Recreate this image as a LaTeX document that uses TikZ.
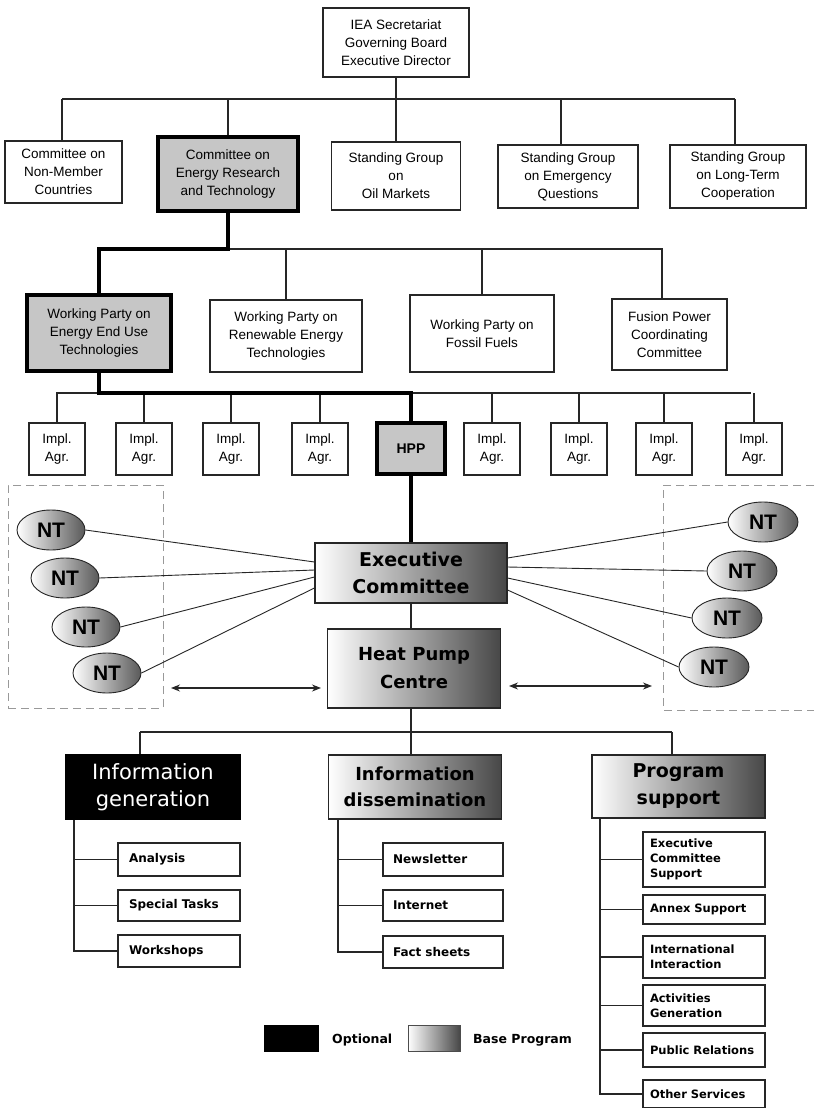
\documentclass[tikz,border=0pt]{standalone}
\usepackage{fontspec}
\setmainfont{Liberation Sans}
\newfontfamily\comicf{DejaVu Sans}
\usetikzlibrary{arrows.meta,shapes.geometric,calc}
\begin{document}
\begin{tikzpicture}[x=1pt,y=-1pt,
  ln/.style={line width=1.1pt, black!85},
  tk/.style={line width=4pt, black},
  sz/.style 2 args={minimum width=#1pt, minimum height=#2pt},
  abox/.style={draw=black!85, line width=1.1pt, align=center, inner sep=0pt, fill=white,
    font=\fontsize{13.5}{18}\selectfont},
  tbox/.style={abox, line width=4pt, draw=black, fill=gray!45},
  gbox/.style={draw=black!85, line width=1.1pt, align=center, inner sep=0pt,
    left color=white, middle color=gray!50, right color=black!72},
  cbox/.style={draw=black!85, line width=1.1pt, inner sep=0pt, fill=white, align=left,
    text width=100pt, font=\comicf\bfseries\fontsize{12}{15}\selectfont},
  pbox/.style={cbox, text width=108pt, font=\comicf\bfseries\fontsize{11.5}{15}\selectfont},
  nt/.style={ellipse, draw=black!85, line width=0.9pt, inner sep=0pt,
    left color=white, right color=black!65, minimum width=68pt, minimum height=40pt,
    font=\bfseries\fontsize{21}{21}\selectfont},
  grp/.style={draw=gray!80, line width=1pt, dash pattern=on 8pt off 5pt},
  arr/.style={line width=1.1pt, black!85, {Stealth[length=9pt,width=7pt]}-{Stealth[length=9pt,width=7pt]}}
]
\fill[white] (0,0) rectangle (814,1108);
\useasboundingbox (0,0) rectangle (814,1108);

% ---------- dashed groups ----------
\node[grp, minimum width=155pt, minimum height=223pt, inner sep=0pt] (lg) at (85.5,596.5) {};
\draw[grp] (814,485) -- (663,485) -- (663,710) -- (814,710);

% ---------- top ----------
\node[abox, sz={146}{69}] (iea) at (396,42.5) {IEA Secretariat\\Governing Board\\Executive Director};

\node[abox, sz={117}{62}] (b1) at (63.5,172) {Committee on\\Non-Member\\Countries};
\node[tbox, sz={140}{74}] (b2) at (228,174) {Committee on\\Energy Research\\and Technology};
\node[abox, sz={129}{68}] (b3) at (396,176) {Standing Group\\on\\Oil Markets};
\node[abox, sz={140}{63}] (b4) at (568,176.5) {Standing Group\\on Emergency\\Questions};
\node[abox, sz={136}{63}] (b5) at (738,176.5) {Standing Group\\on Long-Term\\Cooperation};

\coordinate (bus1L) at (62,99);
\coordinate (bus1R) at (735,99);
\coordinate (d4) at (561,99);
\draw[ln] (bus1L) -- (bus1R);
\draw[ln] (iea.south) -- (iea.south |- bus1L);
\draw[ln] (bus1L) -- (bus1L |- b1.north);
\draw[ln] (b2.north |- bus1L) -- (b2.north);
\draw[ln] (b3.north |- bus1L) -- (b3.north);
\draw[ln] (d4) -- (d4 |- b4.north);
\draw[ln] (bus1R) -- (bus1R |- b5.north);

% ---------- working parties ----------
\node[tbox, sz={144}{76}] (w1) at (99,333) {Working Party on\\Energy End Use\\Technologies};
\node[abox, sz={152}{72}] (w2) at (286,336) {Working Party on\\Renewable Energy\\Technologies};
\node[abox, sz={144}{77}] (w3) at (482,333.5) {Working Party on\\Fossil Fuels};
\node[abox, sz={115}{71}] (w4) at (669.5,334.5) {Fusion Power\\Coordinating\\Committee};

\coordinate (bus2) at (228,249);
\coordinate (bus2R) at (662,249);
\draw[ln] (bus2) -- (bus2R) -- (bus2R |- w4.north);
\draw[ln] (w2.north |- bus2) -- (w2.north);
\draw[ln] (w3.north |- bus2) -- (w3.north);
\draw[tk] (b2.south) -- (bus2) -| (w1.north);

% ---------- implementing agreements ----------
\coordinate (bus3L) at (56,393);
\coordinate (bus3R) at (751,393);
\coordinate (bus3) at (411,393);
\foreach \n/\x in {i1/57, i2/144, i3/231, i4/320, i5/492, i6/579, i7/664, i8/754}{
  \node[abox, sz={56}{52}] (\n) at (\x,449) {Impl.\\Agr.};
  \draw[ln] (\n.north |- bus3L) -- (\n.north);
}
\node[tbox, sz={68}{51}, font=\bfseries\fontsize{14}{18}\selectfont] (hpp) at (411,448.5) {HPP};
\draw[ln] (bus3L) -- (bus3R);
\draw[tk] (w1.south) |- (bus3) -- (hpp.north);

% ---------- executive committee / HPC ----------
\node[gbox, sz={192}{60}, font=\comicf\bfseries\fontsize{19}{27}\selectfont] (ex) at (411,573) {Executive\\Committee};
\node[gbox, sz={173}{79}, font=\comicf\bfseries\fontsize{18}{28}\selectfont] (hpc) at (414,668.5) {Heat Pump\\Centre};
\draw[tk] (hpp.south) -- (ex.north);
\draw[ln] (ex.south) -- (ex.south |- hpc.north);

% NT nodes
\node[nt] (nl1) at (51,530) {NT};
\node[nt] (nl2) at (65,578) {NT};
\node[nt] (nl3) at (86,627) {NT};
\node[nt] (nl4) at (107,673) {NT};
\node[nt, minimum width=70pt] (nr1) at (763,522) {NT};
\node[nt, minimum width=70pt] (nr2) at (742,571) {NT};
\node[nt, minimum width=70pt] (nr3) at (727,618) {NT};
\node[nt, minimum width=70pt] (nr4) at (714,667) {NT};

\draw[ln, line width=0.9pt] (nl1.east) -- ([yshift=11pt]ex.west);
\draw[ln, line width=0.9pt] (nl2.east) -- ([yshift=3pt]ex.west);
\draw[ln, line width=0.9pt] (nl3.east) -- ([yshift=-4pt]ex.west);
\draw[ln, line width=0.9pt] (nl4.east) -- ([yshift=-15pt]ex.west);
\draw[ln, line width=0.9pt] (nr1.west) -- ([yshift=15pt]ex.east);
\draw[ln, line width=0.9pt] (nr2.west) -- ([yshift=6pt]ex.east);
\draw[ln, line width=0.9pt] (nr3.west) -- ([yshift=-5pt]ex.east);
\draw[ln, line width=0.9pt] (nr4.west) -- ([yshift=-17pt]ex.east);

\coordinate (al1) at (171,688);
\coordinate (al2) at (321,688);
\coordinate (ar1) at (509,686);
\coordinate (ar2) at (652,686);
\draw[arr] (al1) -- (al2);
\draw[arr] (ar1) -- (ar2);

% ---------- bottom branches ----------
\coordinate (bus4) at (411,732);
\coordinate (bus4L) at (140,732);
\coordinate (bus4R) at (672,732);
\draw[ln] (ex.south |- hpc.south) -- (bus4);
\draw[ln] (bus4L) -- (bus4R);

\node[draw=black, line width=1.1pt, fill=black, text=white, align=center, inner sep=0pt, sz={174}{64},
  font=\comicf\fontsize{21}{27}\selectfont] (g1) at (153,787) {Information\\generation};
\node[gbox, sz={173}{64}, font=\comicf\bfseries\fontsize{18}{26}\selectfont] (g2) at (415,787) {Information\\dissemination};
\node[gbox, sz={173}{63}, font=\comicf\bfseries\fontsize{19}{27}\selectfont] (g3) at (678.5,786.5) {Program\\support};
\draw[ln] (bus4L) -- (bus4L |- g1.north);
\draw[ln] (bus4) -- (bus4 |- g2.north);
\draw[ln] (bus4R) -- (bus4R |- g3.north);

% information generation
\node[cbox, sz={122}{33}] (a1) at (179,859.5) {Analysis};
\node[cbox, sz={122}{31}] (a2) at (179,905.5) {Special Tasks};
\node[cbox, sz={122}{32}] (a3) at (179,951) {Workshops};
\coordinate (s1) at (74,0);
\draw[ln] (g1.south -| s1) |- (a3.west);
\draw[ln] (a1.west -| s1) -- (a1.west);
\draw[ln] (a2.west -| s1) -- (a2.west);

% information dissemination
\node[cbox, sz={120}{33}] (n1) at (443,859.5) {Newsletter};
\node[cbox, sz={120}{31}] (n2) at (443,905.5) {Internet};
\node[cbox, sz={120}{32}] (n3) at (443,952) {Fact sheets};
\coordinate (s2) at (338,0);
\draw[ln] (g2.south -| s2) |- (n3.west);
\draw[ln] (n1.west -| s2) -- (n1.west);
\draw[ln] (n2.west -| s2) -- (n2.west);

% program support
\node[pbox, sz={122}{55}] (p1) at (704,859.5) {Executive\\Committee\\Support};
\node[pbox, sz={122}{29}] (p2) at (704,909.5) {Annex Support};
\node[pbox, sz={122}{42}] (p3) at (704,957) {International\\Interaction};
\node[pbox, sz={122}{41}] (p4) at (704,1005.5) {Activities\\Generation};
\node[pbox, sz={122}{34}] (p5) at (704,1050) {\mbox{Public Relations}};
\node[pbox, sz={122}{28}] (p6) at (704,1094) {Other Services};
\coordinate (s3) at (600,0);
\draw[ln] (g3.south -| s3) |- (p6.west);
\foreach \p in {p1,p2,p3,p4,p5}{
  \draw[ln] (\p.west -| s3) -- (\p.west);
}

% ---------- legend ----------
\node[draw=black, fill=black, inner sep=0pt, sz={54}{26}] (lo) at (291,1038) {};
\node[anchor=west, inner sep=0pt, font=\comicf\bfseries\fontsize{12.5}{15}\selectfont] (lot) at (332,1040) {Optional};
\node[draw=black!70, line width=1pt, left color=white, middle color=gray!50, right color=black!72, inner sep=0pt, sz={52}{26}] (lb) at (434,1038) {};
\node[anchor=west, inner sep=0pt, font=\comicf\bfseries\fontsize{12.5}{15}\selectfont] (lbt) at (473,1040) {Base Program};
\end{tikzpicture}
\end{document}
